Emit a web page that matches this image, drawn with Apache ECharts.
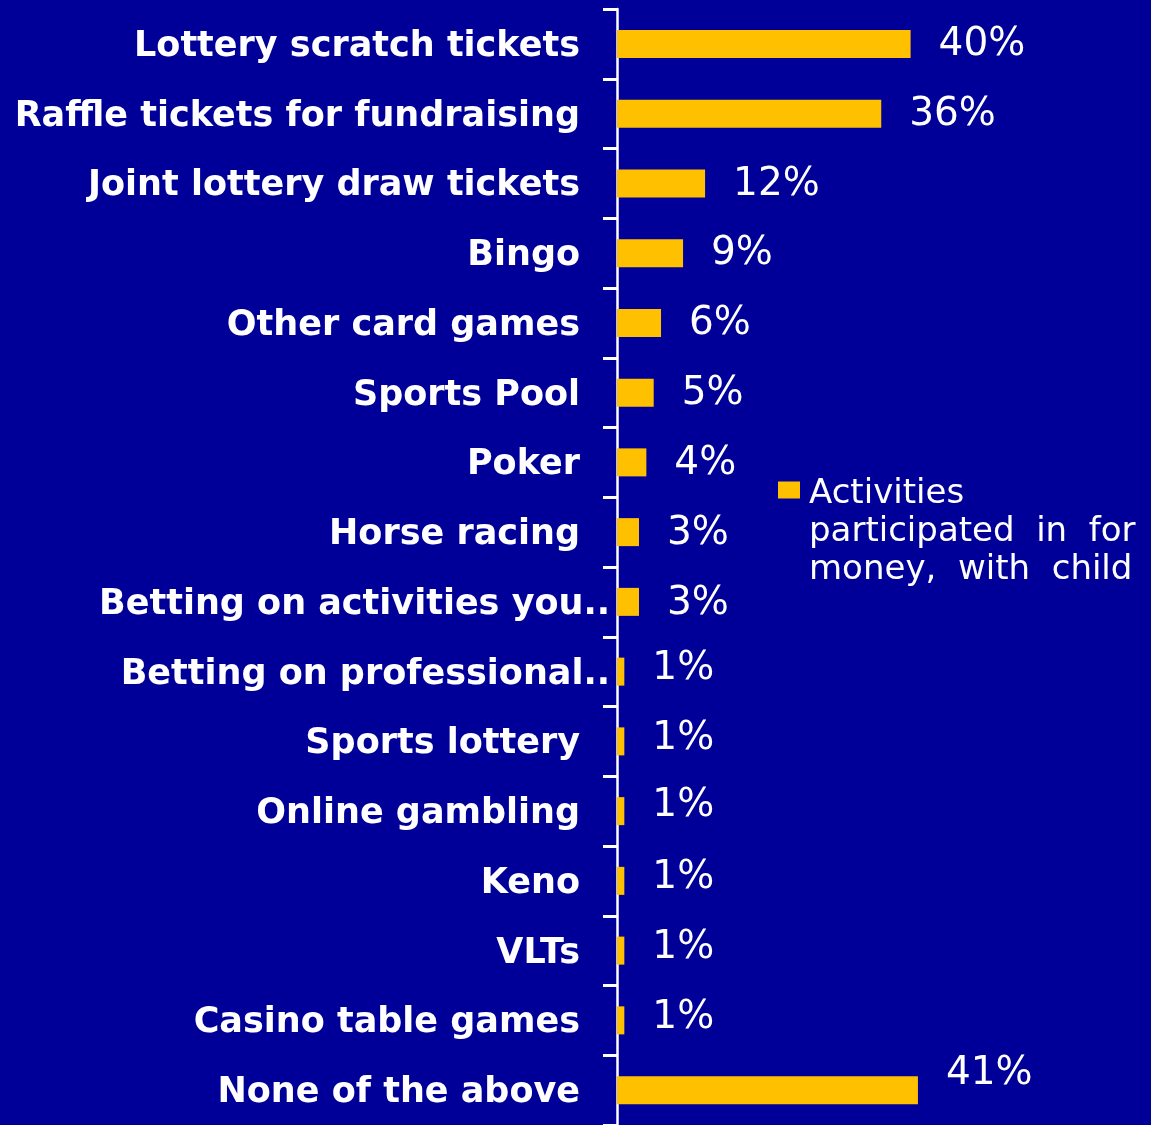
<!DOCTYPE html>
<html>
<head>
<meta charset="utf-8">
<script src="https://cdn.jsdelivr.net/npm/echarts@6/dist/echarts.min.js"></script>
<style>
  html, body { margin: 0; padding: 0; background: #000099; }
  #chart { width: 1151px; height: 1125px; }
</style>
</head>
<body>
<div id="chart"></div>
<script>
var categories = [
    'Lottery scratch tickets',
    'Raffle tickets for fundraising',
    'Joint lottery draw tickets',
    'Bingo',
    'Other card games',
    'Sports Pool',
    'Poker',
    'Horse racing',
    'Betting on activities you..',
    'Betting on professional..',
    'Sports lottery',
    'Online gambling',
    'Keno',
    'VLTs',
    'Casino table games',
    'None of the above'
];
var values = [40, 36, 12, 9, 6, 5, 4, 3, 3, 1, 1, 1, 1, 1, 1, 41];
var seriesName = 'Activities participated in for money, with child';

// vertical nudge of the value labels, as in the original slide
var labelNudge = [1, 1, 1, 1, 1, 1, 1, 2, 2, -3, -3, -5, -3, -3, -3, -16];

var myChart = echarts.init(document.getElementById('chart'));

var barData = values.map(function (v, i) {
    return { value: v, label: { offset: [0, labelNudge[i]] } };
});

var option = {
    backgroundColor: '#000099',
    animation: false,
    legend: {
        left: 773,
        top: 390,
        orient: 'vertical',
        itemWidth: 22,
        itemHeight: 17,
        icon: 'rect',
        data: [seriesName],
        // two blank lines on top keep the icon level with the first line
        formatter: function () {
            return '{b| }\n{b| }\n{t|Activities}\n{t|participated  in  for}\n{t|money,  with  child}';
        },
        textStyle: {
            color: '#ffffff',
            rich: {
                b: {
                    fontSize: 34,
                    lineHeight: 42
                },
                t: {
                    color: '#ffffff',
                    fontFamily: 'DejaVu Sans',
                    fontSize: 34,
                    lineHeight: 38,
                    padding: [0, 0, 0, 4]
                }
            }
        }
    },
    grid: {
        left: 617,
        top: 9,
        width: 367,
        height: 1120,
        containLabel: false
    },
    xAxis: {
        type: 'value',
        min: 0,
        max: 50,
        show: false
    },
    yAxis: {
        type: 'category',
        inverse: true,
        data: categories,
        axisLine: { show: true, lineStyle: { color: '#ffffff', width: 2.5 } },
        axisTick: { show: true, alignWithLabel: false, lineStyle: { color: '#ffffff', width: 3 }, length: 14 },
        axisLabel: {
            margin: 7,
            formatter: function (name) {
                return name.slice(-2) === '..' ? '{c|' + name + '}' : '{n|' + name + '}';
            },
            rich: {
                n: {
                    color: '#ffffff',
                    fontFamily: 'DejaVu Sans',
                    fontWeight: 'bold',
                    fontSize: 35,
                    padding: [6, 30, 0, 0]
                },
                c: {
                    color: '#ffffff',
                    fontFamily: 'DejaVu Sans',
                    fontWeight: 'bold',
                    fontSize: 35,
                    padding: [6, 0, 0, 0]
                }
            }
        }
    },
    series: [{
        name: seriesName,
        type: 'bar',
        data: barData,
        barWidth: 28,
        itemStyle: { color: '#FFC000' },
        label: {
            show: true,
            position: 'right',
            distance: 28,
            color: '#ffffff',
            fontFamily: 'DejaVu Sans',
            fontSize: 39,
            formatter: '{c}%'
        }
    }]
};

myChart.setOption(option);
</script>
</body>
</html>
